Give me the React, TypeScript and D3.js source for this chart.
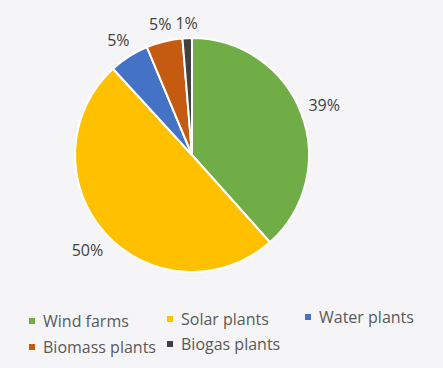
import React from "react";
import * as d3 from "d3";

const categories = ["Wind farms", "Solar plants", "Water plants", "Biomass plants", "Biogas plants"];
const values = [38.4, 49.8, 5.5, 5.0, 1.3];
const labels = ["39%", "50%", "5%", "5%", "1%"];
const colors = ["#70AD47", "#FFC000", "#4472C4", "#C55A11", "#404040"];

const W = 443;
const H = 368;
const cx = 192;
const cy = 155;
const R = 117;
const gap = 7;
const labelFont = 16;

// legend layout: [x of marker, baseline y of text]
const legendPos = [
  [29, 327],
  [167, 325],
  [305, 323],
  [29, 353],
  [167, 350],
];

function textWidth(s: string, size: number) {
  let w = 0;
  for (const ch of s) w += ch === "%" ? 0.82 : 0.572;
  return w * size;
}

export default function App() {
  const pie = d3.pie<number>().sort(null).value((d) => d);
  const arcs = pie(values);
  const arcGen = d3.arc<d3.PieArcDatum<number>>().innerRadius(0).outerRadius(R);
  const font = "'Open Sans', 'Noto Sans', sans-serif";

  return (
    <svg width={W} height={H} style={{ position: "absolute", left: 0, top: 0, background: "#F5F5F7" }}>
      <rect x={0} y={0} width={W} height={H} fill="#F5F5F7" />
      <g transform={`translate(${cx},${cy})`}>
        {arcs.map((a, i) => (
          <path key={i} d={arcGen(a) || ""} fill={colors[i]} stroke="#ffffff" strokeWidth={2} strokeLinejoin="round" />
        ))}
        {arcs.map((a, i) => {
          const mid = (a.startAngle + a.endAngle) / 2;
          const s = Math.sin(mid);
          const c = Math.cos(mid);
          const w = textWidth(labels[i], labelFont);
          const h = labelFont;
          const r = R + gap + Math.abs(s) * (w / 2) + Math.abs(c) * (h / 2);
          const x = s * r;
          const y = -c * r;
          return (
            <text
              key={i}
              x={x}
              y={y}
              textAnchor="middle"
              dominantBaseline="central"
              fontFamily={font}
              fontSize={labelFont}
              fill="#404040"
            >
              {labels[i]}
            </text>
          );
        })}
      </g>
      {categories.map((c, i) => {
        const [lx, ly] = legendPos[i];
        return (
          <g key={c}>
            <rect x={lx} y={ly - 9} width={6} height={6} fill={colors[i]} />
            <text x={lx + 14} y={ly} fontFamily={font} fontSize={16} fill="#595959">
              {c}
            </text>
          </g>
        );
      })}
    </svg>
  );
}
